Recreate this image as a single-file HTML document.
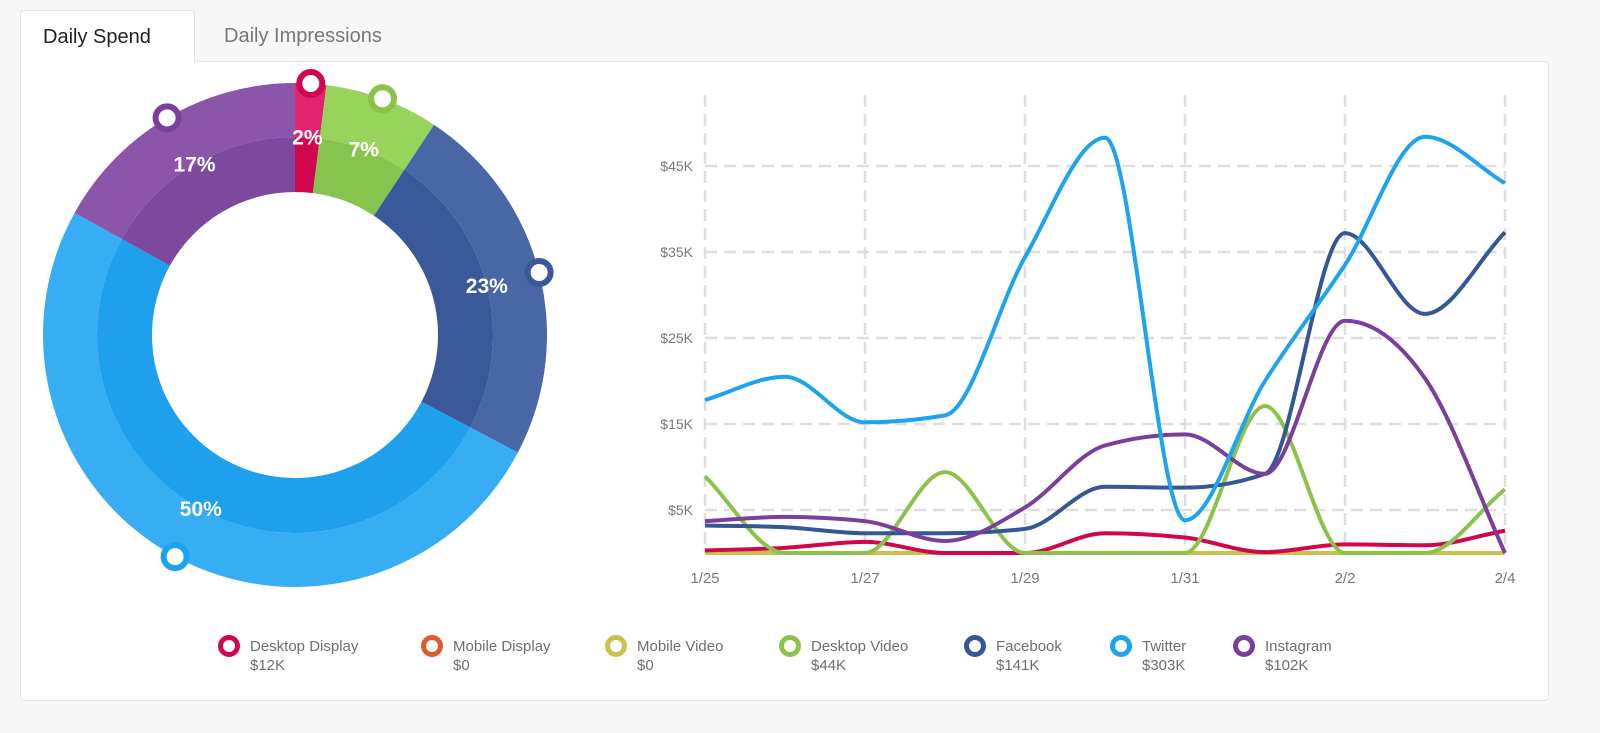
<!DOCTYPE html>
<html><head><meta charset="utf-8">
<style>
html,body{margin:0;padding:0;background:#f7f7f7;width:1600px;height:733px;overflow:hidden;font-family:"Liberation Sans",sans-serif;}
#panel{position:absolute;left:20px;top:61px;width:1527px;height:638px;background:#fff;border:1px solid #e3e3e3;border-radius:0 4px 4px 4px;}
.tab{position:absolute;top:10px;height:51px;font-size:20px;line-height:52px;box-sizing:border-box;}
#tab1{left:20px;width:175px;background:#fff;border:1px solid #e3e3e3;border-bottom:none;border-radius:4px 4px 0 0;color:#222;padding-left:22px;z-index:2;height:53px;}
#tab2{left:224px;color:#777;}
svg{position:absolute;left:0;top:0;}
</style></head><body>
<div id="panel"></div>
<div class="tab" id="tab1">Daily Spend</div>
<div class="tab" id="tab2">Daily Impressions</div>
<svg id="svg" width="1600" height="733"></svg>
<script>
const NS="http://www.w3.org/2000/svg";
const svg=document.getElementById('svg');
function mk(tag,attrs,parent){const e=document.createElementNS(NS,tag);for(const k in attrs)e.setAttribute(k,attrs[k]);(parent||svg).appendChild(e);return e;}

// ---- donut data ----
const sliceNames=["Desktop Display","Desktop Video","Facebook","Twitter","Instagram"];
const sliceValues=[12,44,141,303,102];
const sliceLabels=["2%","7%","23%","50%","17%"];
const sliceOuter=["#e2246f","#98d45c","#4867a4","#37adf3","#8b56aa"];
const sliceInner=["#d0064f","#89c34f","#3b5998","#1ea0ec","#7d499d"];
const sliceMarker=["#d0064f","#8bc34a","#3b5998","#1da1f2","#7b3f9b"];

const cx=295,cy=335,R=252,Rm=198,Ri=143;
function pt(r,a){return [cx+r*Math.cos(a),cy+r*Math.sin(a)];}
function arc(r0,r1,a0,a1){const l=(a1-a0)>Math.PI?1:0;const p0=pt(r1,a0),p1=pt(r1,a1),p2=pt(r0,a1),p3=pt(r0,a0);
return `M${p0[0]},${p0[1]}A${r1},${r1} 0 ${l} 1 ${p1[0]},${p1[1]}L${p2[0]},${p2[1]}A${r0},${r0} 0 ${l} 0 ${p3[0]},${p3[1]}Z`;}
const total=sliceValues.reduce((a,b)=>a+b,0);
const dg=mk('g',{});


let a=-Math.PI/2;
const mids=[];
sliceValues.forEach((v,i)=>{
  const a1=a+v/total*2*Math.PI;
  const o=mk('path',{d:arc(Rm,R,a,a1),fill:sliceOuter[i]},dg);
  
  
  const n=mk('path',{d:arc(Ri,Rm,a,a1),fill:sliceInner[i]},dg);
  
  
  mids.push((a+a1)/2);a=a1;
});
sliceValues.forEach((v,i)=>{
  const m=mids[i];const lp=pt(Rm,m);
  const t=mk('text',{x:lp[0],y:lp[1]+7,'text-anchor':'middle','font-size':21,'font-weight':'bold',fill:'#fff'},dg);
  t.textContent=sliceLabels[i];
  
  
  const mp=pt(R,m);
  const c=mk('circle',{cx:mp[0],cy:mp[1],r:11.5,fill:'#fff',stroke:sliceMarker[i],'stroke-width':6},dg);
  
  
});

// ---- line chart data ----
const dates=["1/25","1/26","1/27","1/28","1/29","1/30","1/31","2/1","2/2","2/3","2/4"];
const xTickLabels=["1/25","1/27","1/29","1/31","2/2","2/4"];
const yTicks=[5,15,25,35,45];
const yTickLabels=["$5K","$15K","$25K","$35K","$45K"];
const seriesNames=["Mobile Display","Mobile Video","Desktop Display","Desktop Video","Facebook","Instagram","Twitter"];
const mobileDisplay=[0,0,0,0,0,0,0,0,0,0,0];
const mobileVideo=[0,0,0,0,0,0,0,0,0,0,0];
const desktopDisplay=[0.3,0.6,1.3,0,0,2.3,1.8,0.1,1.0,0.9,2.6];
const desktopVideo=[8.9,0,0,9.4,0,0,0,17.1,0,0,7.4];
const facebook=[3.2,3.0,2.3,2.3,2.8,7.7,7.6,9.2,37.2,27.8,37.3];
const instagram=[3.7,4.2,3.7,1.4,5.3,12.5,13.8,9.2,27.0,20.3,0];
const twitter=[17.8,20.5,15.2,16.0,34.4,48.3,3.8,20.0,33.5,48.4,43.0];
const seriesColors=["#e05a2b","#c9c24e","#d0064f","#8bc34a","#345795","#7b3f9b","#1ea3ee"];
const seriesData=[mobileDisplay,mobileVideo,desktopDisplay,desktopVideo,facebook,instagram,twitter];

const X0=705,X1=1505,Y0=553,YTOP=95,perK=8.6;
function xs(i){return X0+(X1-X0)*i/(dates.length-1);}
function ys(v){return Y0-v*perK;}

const grid=mk('g',{});


yTicks.forEach((v,i)=>{
  const l=mk('line',{x1:X0,x2:X1,y1:ys(v),y2:ys(v),stroke:'#dedede','stroke-width':2.5,'stroke-dasharray':'12 7'},grid);
  
  
  const t=mk('text',{x:693,y:ys(v)+5,'text-anchor':'end','font-size':14,fill:'#777'},grid);
  t.textContent=yTickLabels[i];
  
  
});
xTickLabels.forEach(lbl=>{
  const i=dates.indexOf(lbl);
  const l=mk('line',{x1:xs(i),x2:xs(i),y1:YTOP,y2:Y0,stroke:'#dedede','stroke-width':2.5,'stroke-dasharray':'12 7'},grid);
  
  
  const t=mk('text',{x:xs(i),y:583,'text-anchor':'middle','font-size':15,fill:'#777'},grid);
  t.textContent=lbl;
  
  
});

function monotonePath(px,py){
  const n=px.length,d=[],m=[];
  for(let i=0;i<n-1;i++)d.push((py[i+1]-py[i])/(px[i+1]-px[i]));
  m[0]=d[0];m[n-1]=d[n-2];
  for(let i=1;i<n-1;i++){m[i]=(d[i-1]*d[i]<=0)?0:(()=>{const h0=px[i]-px[i-1],h1=px[i+1]-px[i];const p=(d[i-1]*h1+d[i]*h0)/(h0+h1);return (Math.sign(d[i-1])+Math.sign(d[i]))*Math.min(Math.abs(d[i-1]),Math.abs(d[i]),0.5*Math.abs(p));})();}
  let s=`M${px[0]},${py[0]}`;
  for(let i=0;i<n-1;i++){const h=(px[i+1]-px[i])/3;s+=`C${px[i]+h},${py[i]+m[i]*h} ${px[i+1]-h},${py[i+1]-m[i+1]*h} ${px[i+1]},${py[i+1]}`;}
  return s;
}
const lines=mk('g',{});


seriesData.forEach((arr,k)=>{
  const px=arr.map((v,i)=>xs(i)),py=arr.map(v=>ys(v));
  const p=mk('path',{d:monotonePath(px,py),fill:'none',stroke:seriesColors[k],'stroke-width':4,'stroke-linejoin':'round'},lines);
  
  
});

// ---- legend ----
const legendNames=["Desktop Display","Mobile Display","Mobile Video","Desktop Video","Facebook","Twitter","Instagram"];
const legendValues=["$12K","$0","$0","$44K","$141K","$303K","$102K"];
const legendColors=["#d0064f","#e05a2b","#c9c24e","#8bc34a","#345795","#1ea3ee","#7b3f9b"];
const legendX=[229,432,616,790,975,1121,1244];
legendNames.forEach((nm,i)=>{
  const g=mk('g',{});
  
  
  const c=mk('circle',{cx:legendX[i],cy:646,r:8.5,fill:'#fff',stroke:legendColors[i],'stroke-width':5},g);
  
  
  const t=mk('text',{x:legendX[i]+21,y:651,'font-size':15,fill:'#6e6e6e'},g);
  t.textContent=nm;
  
  
  const t2=mk('text',{x:legendX[i]+21,y:670,'font-size':15,fill:'#6e6e6e'},g);
  t2.textContent=legendValues[i];
  
  
});
</script>
</body></html>
